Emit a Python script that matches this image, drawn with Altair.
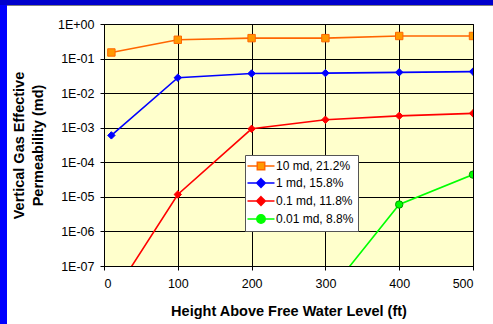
import altair as alt
import pandas as pd

# ---------------- data ----------------
heights = [10, 100, 200, 300, 400, 500]
series_names = ["10 md, 21.2%", "1 md, 15.8%", "0.1 md, 11.8%", "0.01 md, 8.8%"]
k_10md = [0.15, 0.35, 0.39, 0.39, 0.45, 0.45]
k_1md = [6.0e-4, 0.028, 0.037, 0.038, 0.040, 0.042]
k_01md = [1.2e-8, 1.17e-5, 9.3e-4, 1.7e-3, 2.2e-3, 2.6e-3]
heights_001 = [300, 400, 500]
k_001md = [1.3e-8, 6.0e-6, 4.4e-5]

x_ticks = [0, 100, 200, 300, 400, 500]
y_ticks = [1e-7, 1e-6, 1e-5, 1e-4, 1e-3, 1e-2, 1e-1, 1e0]
y_tick_labels = ["1E-07", "1E-06", "1E-05", "1E-04", "1E-03", "1E-02", "1E-01", "1E+00"]

line_colors = ["#FF6600", "#0000FF", "#FF0000", "#00FF00"]
marker_fills = ["#FF9900", "#0000FF", "#FF0000", "#00FF00"]
marker_strokes = ["#FF6600", "#0000FF", "#FF0000", "#009900"]
marker_shapes = ["square", "diamond", "diamond", "circle"]
legend_shapes = [
    "M-2.25,0H-0.62M0.62,0H2.25M-0.62,-0.62H0.62V0.62H-0.62Z",
    "M-2.25,0H-0.72M0.72,0H2.25M0,-0.72L0.72,0L0,0.72L-0.72,0Z",
    "M-2.25,0H-0.72M0.72,0H2.25M0,-0.72L0.72,0L0,0.72L-0.72,0Z",
    "M-2.25,0H-0.7M0.7,0H2.25M-0.7,0A0.7,0.7 0 1,0 0.7,0A0.7,0.7 0 1,0 -0.7,0Z",
]

rows = []
for name, hs, ks in [
    (series_names[0], heights, k_10md),
    (series_names[1], heights, k_1md),
    (series_names[2], heights, k_01md),
    (series_names[3], heights_001, k_001md),
]:
    for h, k in zip(hs, ks):
        rows.append({"series": name, "height": h, "perm": k})
df = pd.DataFrame(rows)

FONT = "Liberation Sans"
W, H = 369, 242

label_expr = "[" + ",".join("'%s'" % s for s in y_tick_labels) + "][round(log(datum.value)/LN10)+7]"

x_enc = alt.X(
    "height:Q",
    scale=alt.Scale(domain=[0, 500], nice=False, zero=False),
    axis=alt.Axis(
        values=x_ticks, format="d", title="Height Above Free Water Level (ft)",
        labelFontSize=12.5, titleFontSize=14.5, titleFontWeight="bold",
        tickSize=4, labelPadding=7, titlePadding=15,
    ),
)
y_enc = alt.Y(
    "perm:Q",
    scale=alt.Scale(type="log", domain=[1e-7, 1], nice=False),
    axis=alt.Axis(
        values=y_ticks, labelExpr=label_expr,
        title=["Vertical Gas Effective", "Permeability (md)"],
        labelFontSize=12.5, titleFontSize=14.5, titleFontWeight="bold",
        tickSize=4, labelPadding=6, titlePadding=12, titleLineHeight=19,
    ),
)

lines = alt.Chart(df).mark_line(clip=True, strokeWidth=1.6).encode(
    x=x_enc, y=y_enc,
    color=alt.Color("series:N", scale=alt.Scale(domain=series_names, range=line_colors), legend=None),
    order="height:Q",
)

points = alt.Chart(df).mark_point(clip=True, size=55, strokeWidth=1, opacity=1, filled=False).encode(
    x=x_enc, y=y_enc,
    shape=alt.Shape("series:N", scale=alt.Scale(domain=series_names, range=marker_shapes), legend=None),
    fill=alt.Fill("series:N", scale=alt.Scale(domain=series_names, range=marker_fills), legend=None),
    stroke=alt.Stroke("series:N", scale=alt.Scale(domain=series_names, range=marker_strokes), legend=None),
)

leg = alt.Legend(
    title=None, orient="none", legendX=141, legendY=131,
    fillColor="white", strokeColor="#555555", padding=4, rowPadding=2,
    symbolSize=144, symbolStrokeWidth=1.5, symbolOffset=5, labelOffset=8,
    labelFontSize=12, labelFont=FONT, labelColor="black",
)
legend_layer = alt.Chart(df).mark_point(size=144, strokeWidth=1.5, opacity=1, filled=False).encode(
    x=x_enc, y=y_enc,
    color=alt.Color("series:N", scale=alt.Scale(domain=series_names, range=line_colors), legend=leg),
    fill=alt.Fill("series:N", scale=alt.Scale(domain=series_names, range=marker_fills), legend=leg),
    shape=alt.Shape("series:N", scale=alt.Scale(domain=series_names, range=legend_shapes), legend=leg),
).transform_filter("false")

deco_df = pd.DataFrame({"k": [0]})
left_band = alt.Chart(deco_df).mark_rule(color="#0000FF", strokeWidth=7, clip=False).encode(
    x=alt.value(-100.5), y=alt.value(-24), y2=alt.value(300))
top_band = alt.Chart(deco_df).mark_rule(color="#0000CC", strokeWidth=5, clip=False).encode(
    y=alt.value(-21.5), x=alt.value(-104), x2=alt.value(389))
top_line = alt.Chart(deco_df).mark_rule(color="#808080", strokeWidth=1, clip=False).encode(
    y=alt.value(-18.5), x=alt.value(-97), x2=alt.value(389))

chart = alt.layer(left_band, top_band, top_line, lines, points, legend_layer).resolve_scale(
    color="independent", fill="independent", shape="independent", stroke="independent"
).properties(
    width=W, height=H,
    autosize=alt.AutoSizeParams(type="none"),
    padding={"left": 104, "top": 24, "right": 20, "bottom": 58},
    background="white",
).configure_view(
    fill="#FFFFCC", stroke="black", strokeWidth=1,
).configure_axis(
    grid=True, gridColor="black", gridOpacity=1, gridWidth=1,
    domainColor="black", tickColor="black", labelColor="black", titleColor="black",
    labelFont=FONT, titleFont=FONT,
)

chart.save("out.html", embed_options={"renderer": "svg", "actions": False})
